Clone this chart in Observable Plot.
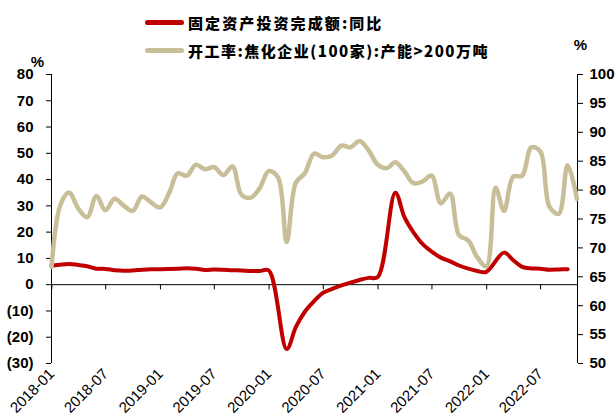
<!DOCTYPE html>
<html><head><meta charset="utf-8">
<script src="https://cdn.jsdelivr.net/npm/d3@7"></script>
<script src="https://cdn.jsdelivr.net/npm/@observablehq/plot@0.6"></script>
<style>
body{margin:0;background:#fff;}
#wrap{position:relative;width:615px;height:416px;overflow:hidden;}
#legend{position:absolute;left:0;top:0;width:615px;font-family:"Noto Sans CJK SC",sans-serif;font-weight:900;font-size:15px;color:#000;}
.row{position:absolute;left:145px;display:flex;align-items:center;height:20px;white-space:nowrap;letter-spacing:1.5px;}
.sw{width:39px;height:5px;border-radius:2.5px;margin-right:4px;}
</style></head>
<body><div id="wrap"><div id="chart"></div><div id="legend"></div></div>
<script>
// ---- data ----
const seriesNames = ["固定资产投资完成额:同比", "开工率:焦化企业(100家):产能>200万吨"];
const seriesColors = ["#C00000", "#C8BE98"];

const faiMonths = ["2017-12","2018-02","2018-03","2018-04","2018-05","2018-06","2018-07","2018-08","2018-09","2018-10","2018-11","2018-12",
  "2019-02","2019-03","2019-04","2019-05","2019-06","2019-07","2019-08","2019-09","2019-10","2019-11","2019-12",
  "2020-02","2020-03","2020-04","2020-05","2020-06","2020-07","2020-08","2020-09","2020-10","2020-11","2020-12",
  "2021-02","2021-03","2021-04","2021-05","2021-06","2021-07","2021-08","2021-09","2021-10","2021-11","2021-12",
  "2022-02","2022-03","2022-04","2022-05","2022-06","2022-07","2022-08","2022-09"];
const faiValues = [7.2,7.9,7.5,7.0,6.1,6.0,5.5,5.3,5.4,5.7,5.9,5.9,
  6.1,6.3,6.1,5.6,5.8,5.7,5.5,5.4,5.2,5.2,5.4,
  -24.5,-16.1,-10.3,-6.3,-3.1,-1.6,-0.3,0.8,1.8,2.6,2.9,
  35.0,25.6,19.9,15.4,12.6,10.3,8.9,7.3,6.1,5.2,4.9,
  12.2,9.3,6.8,6.2,6.1,5.7,5.8,5.9];

const cokeMonths = ["2017-12",
  "2018-01","2018-02","2018-03","2018-04","2018-05","2018-06","2018-07","2018-08","2018-09","2018-10","2018-11","2018-12",
  "2019-01","2019-02","2019-03","2019-04","2019-05","2019-06","2019-07","2019-08","2019-09","2019-10","2019-11","2019-12",
  "2020-01","2020-02","2020-03","2020-04","2020-05","2020-06","2020-07","2020-08","2020-09","2020-10","2020-11","2020-12",
  "2021-01","2021-02","2021-03","2021-04","2021-05","2021-06","2021-07","2021-08","2021-09","2021-10","2021-11","2021-12",
  "2022-01","2022-02","2022-03","2022-04","2022-05","2022-06","2022-07","2022-08","2022-09","2022-10"];
const cokeValues = [66.7,
  77.6,79.6,76.8,75.3,79.0,76.5,78.5,77.3,76.4,78.9,77.9,77.0,
  79.6,82.9,82.5,84.4,83.6,84.0,82.6,84.1,79.2,78.7,80.3,83.3,
  82.2,71.0,81.3,82.9,86.3,85.7,86.0,87.7,87.4,88.5,86.9,84.4,
  83.8,84.8,83.2,81.2,81.5,82.5,77.7,79.4,72.2,71.3,68.4,66.8,
  80.4,76.4,82.3,82.5,87.4,86.7,77.1,75.9,84.3,78.5];

const leftTicks = [-30,-20,-10,0,10,20,30,40,50,60,70,80];
const rightTicks = [50,55,60,65,70,75,80,85,90,95,100];
const xTickLabels = ["2018-01","2018-07","2019-01","2019-07","2020-01","2020-07","2021-01","2021-07","2022-01","2022-07"];
const xStart = "2017-12-31", xEnd = "2022-11-02";

// ---- build ----
const leftMin = -30, leftMax = 80, rightMin = 50, rightMax = 100;
const toLeft = v => leftMin + (v - rightMin) * (leftMax - leftMin) / (rightMax - rightMin);
const fromLeft = y => rightMin + (y - leftMin) * (rightMax - rightMin) / (leftMax - leftMin);
const parseM = d3.utcParse("%Y-%m");
const monthEnd = s => d3.utcDay.offset(d3.utcMonth.offset(parseM(s), 1), -1);
const fai = faiMonths.map((m, i) => ({date: monthEnd(m), value: faiValues[i]}));
const coke = cokeMonths.map((m, i) => ({date: monthEnd(m), value: cokeValues[i]}));
const xTicks = xTickLabels.map(parseM);
const xDomain = [d3.utcParse("%Y-%m-%d")(xStart), d3.utcParse("%Y-%m-%d")(xEnd)];
const fmtX = d3.utcFormat("%Y-%m");

const chart = Plot.plot({
  width: 615, height: 416,
  marginLeft: 51, marginRight: 38, marginTop: 74, marginBottom: 53,
  style: {fontFamily: "'Liberation Sans', Arial, sans-serif", fontSize: "15px", color: "#000", background: "#fff"},
  x: {type: "utc", domain: xDomain, label: null},
  y: {domain: [leftMin, leftMax], label: null},
  marks: [
    Plot.ruleY([0], {stroke: "#000", strokeWidth: 1}),
    Plot.ruleX(xTicks, {x: d => d, y1: 0, y2: -2, stroke: "#000", strokeWidth: 1}),
    Plot.ruleX([xDomain[0]], {stroke: "#000", strokeWidth: 1}),
    Plot.ruleX([xDomain[1]], {stroke: "#000", strokeWidth: 1}),
    Plot.axisY(leftTicks, {anchor: "left", tickSize: 5, tickPadding: 13, fontWeight: "bold", fontSize: 15,
      tickFormat: d => d < 0 ? `(${-d})` : `${d}`}),
    Plot.axisY(rightTicks.map(toLeft), {anchor: "right", tickSize: 5, tickPadding: 7, fontWeight: "bold", fontSize: 15,
      tickFormat: d => `${Math.round(fromLeft(d))}`}),
    Plot.axisX(xTicks, {anchor: "bottom", tickSize: 0, tickPadding: 8, tickRotate: -45, fontSize: 15,
      tickFormat: d => fmtX(d)}),
    Plot.line(fai, {x: "date", y: "value", stroke: seriesColors[0], strokeWidth: 4, curve: "catmull-rom"}),
    Plot.line(coke, {x: "date", y: d => toLeft(d.value), stroke: seriesColors[1], strokeWidth: 4.5, curve: "catmull-rom"}),
    Plot.text(["%"], {frameAnchor: "top-left", textAnchor: "middle", lineAnchor: "middle", dx: -14, dy: -12, fontWeight: "bold", fontSize: 15}),
    Plot.text(["%"], {frameAnchor: "top-right", textAnchor: "middle", lineAnchor: "middle", dx: 3, dy: -29, fontWeight: "bold", fontSize: 15})
  ]
});
document.getElementById("chart").appendChild(chart);

const legend = document.getElementById("legend");
const rowTops = [12.7, 40.7];
const rowSpacing = ["2.1px", "1.5px"];
seriesNames.forEach((name, i) => {
  const row = document.createElement("div");
  row.className = "row";
  row.style.top = rowTops[i] + "px";
  row.style.letterSpacing = rowSpacing[i];
  const sw = document.createElement("span");
  sw.className = "sw";
  sw.style.background = seriesColors[i];
  const tx = document.createElement("span");
  tx.textContent = name;
  row.appendChild(sw); row.appendChild(tx);
  legend.appendChild(row);
});
</script>
</body></html>
